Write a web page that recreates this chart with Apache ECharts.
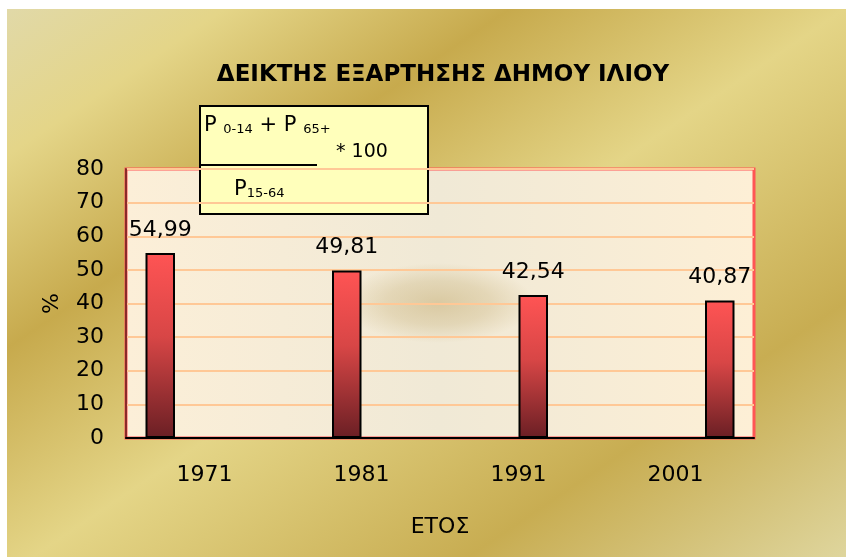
<!DOCTYPE html>
<html>
<head>
<meta charset="utf-8">
<script src="https://cdn.jsdelivr.net/npm/echarts@6/dist/echarts.min.js"></script>
<style>
  html, body { margin: 0; padding: 0; background: #fff; }
  #chart { width: 846px; height: 557px; }
</style>
</head>
<body>
<div id="chart"></div>
<script>
// data
var years = ['1971', '1981', '1991', '2001'];
var ratios = [54.99, 49.81, 42.54, 40.87];
var yTicks = [0, 10, 20, 30, 40, 50, 60, 70, 80];

var chart = echarts.init(document.getElementById('chart'));
var fnt = 'DejaVu Sans';

var barFill = new echarts.graphic.LinearGradient(0, 0, 0, 1, [
  { offset: 0, color: '#ff5454' },
  { offset: 0.45, color: '#d84646' },
  { offset: 1, color: '#6a1f24' }
]);

// excel-like clustered bars: one series per year, only its own slot filled
var series = years.map(function (y, i) {
  return {
    type: 'bar',
    name: y,
    barWidth: 29.5,
    barGap: '0%',
    data: years.map(function (_, j) { return j === i ? ratios[i] : '-'; }),
    itemStyle: { color: barFill, borderColor: '#000', borderWidth: 2 },
    label: {
      show: true,
      position: 'top',
      distance: 12,
      fontFamily: fnt,
      fontSize: 22,
      color: '#000',
      formatter: function (p) { return p.value.toFixed(2).replace('.', ','); }
    }
  };
});

var option = {
  animation: false,
  title: {
    text: 'ΔΕΙΚΤΗΣ ΕΞΑΡΤΗΣΗΣ ΔΗΜΟΥ ΙΛΙΟΥ',
    left: 438,
    top: 59,
    textAlign: 'center',
    textStyle: { fontFamily: fnt, fontWeight: 'bold', fontSize: 23, color: '#000' }
  },
  grid: {
    left: 126, top: 169, right: 92, bottom: 119,
    show: true,
    backgroundColor: 'transparent',
    borderColor: '#ff5555',
    borderWidth: 3
  },
  xAxis: {
    type: 'category',
    data: years,
    name: 'ΕΤΟΣ',
    nameLocation: 'middle',
    nameGap: 78,
    nameTextStyle: { fontFamily: fnt, fontSize: 22, color: '#000' },
    axisLine: { lineStyle: { color: '#000', width: 2 } },
    axisTick: { show: false },
    axisLabel: { margin: 26, fontFamily: fnt, fontSize: 22, color: '#000' }
  },
  yAxis: {
    type: 'value',
    min: yTicks[0],
    max: yTicks[yTicks.length - 1],
    interval: 10,
    name: '%',
    nameLocation: 'middle',
    nameGap: 63,
    nameRotate: 90,
    nameTextStyle: { fontFamily: fnt, fontSize: 22, color: '#000' },
    axisLine: { show: true, lineStyle: { color: '#8a2a2a', width: 2 } },
    axisTick: { show: false },
    axisLabel: { margin: 22, fontFamily: fnt, fontSize: 22, color: '#000' },
    splitLine: { lineStyle: { color: '#ffc896', width: 2 } }
  },
  graphic: [
    {
      type: 'rect', z: -10, silent: true,
      shape: { x: 7, y: 9, width: 839, height: 548 },
      style: {
        fill: new echarts.graphic.LinearGradient(7, 9, 531, 786, [
          { offset: 0, color: '#e1d9a8' },
          { offset: 0.13, color: '#e4d588' },
          { offset: 0.3, color: '#c7aa4d' },
          { offset: 0.5, color: '#e4d587' },
          { offset: 0.76, color: '#c8ad52' },
          { offset: 1, color: '#e0d8a2' }
        ], true)
      }
    },
    {
      type: 'rect', z: -5, silent: true,
      shape: { x: 126, y: 169, width: 628, height: 269 },
      style: {
        fill: new echarts.graphic.LinearGradient(0, 0, 1, 0, [
          { offset: 0, color: '#fcefd8' },
          { offset: 0.5, color: '#f0e9d6' },
          { offset: 1, color: '#fdefd6' }
        ])
      }
    },
    {
      // soft shadow smudge in the middle of the plot
      type: 'circle', z: -4, silent: true,
      x: 438, y: 303, scaleX: 2.4, scaleY: 1,
      shape: { cx: 0, cy: 0, r: 40 },
      style: {
        fill: new echarts.graphic.RadialGradient(0.5, 0.5, 0.5, [
          { offset: 0, color: 'rgba(195,170,110,0.5)' },
          { offset: 0.55, color: 'rgba(195,170,110,0.3)' },
          { offset: 1, color: 'rgba(195,170,110,0)' }
        ])
      }
    },
    {
      type: 'group', z: 50,
      children: [
        {
          type: 'rect',
          shape: { x: 200, y: 106, width: 228, height: 108 },
          style: { fill: '#ffffbb', stroke: '#000', lineWidth: 2 }
        },
        {
          type: 'line',
          shape: { x1: 200, y1: 165, x2: 317, y2: 165 },
          style: { stroke: '#000', lineWidth: 2 }
        },
        {
          type: 'text', x: 204, y: 111,
          style: {
            text: '{p|P }{s|0-14}{p| + P }{s|65+}',
            fontFamily: fnt,
            rich: {
              p: { fontFamily: fnt, fontSize: 21, color: '#000', lineHeight: 25, verticalAlign: 'bottom' },
              s: { fontFamily: fnt, fontSize: 13, color: '#000', lineHeight: 20, verticalAlign: 'bottom' }
            }
          }
        },
        {
          type: 'text', x: 336, y: 143,
          style: { text: '* 100', fontFamily: fnt, fontSize: 19, fill: '#000' }
        },
        {
          type: 'text', x: 234, y: 175,
          style: {
            text: '{p|P}{s|15-64}',
            rich: {
              p: { fontFamily: fnt, fontSize: 21, color: '#000', lineHeight: 25, verticalAlign: 'bottom' },
              s: { fontFamily: fnt, fontSize: 13, color: '#000', lineHeight: 18, verticalAlign: 'bottom' }
            }
          }
        }
      ]
    }
  ],
  series: series
};

chart.setOption(option);
</script>
</body>
</html>
